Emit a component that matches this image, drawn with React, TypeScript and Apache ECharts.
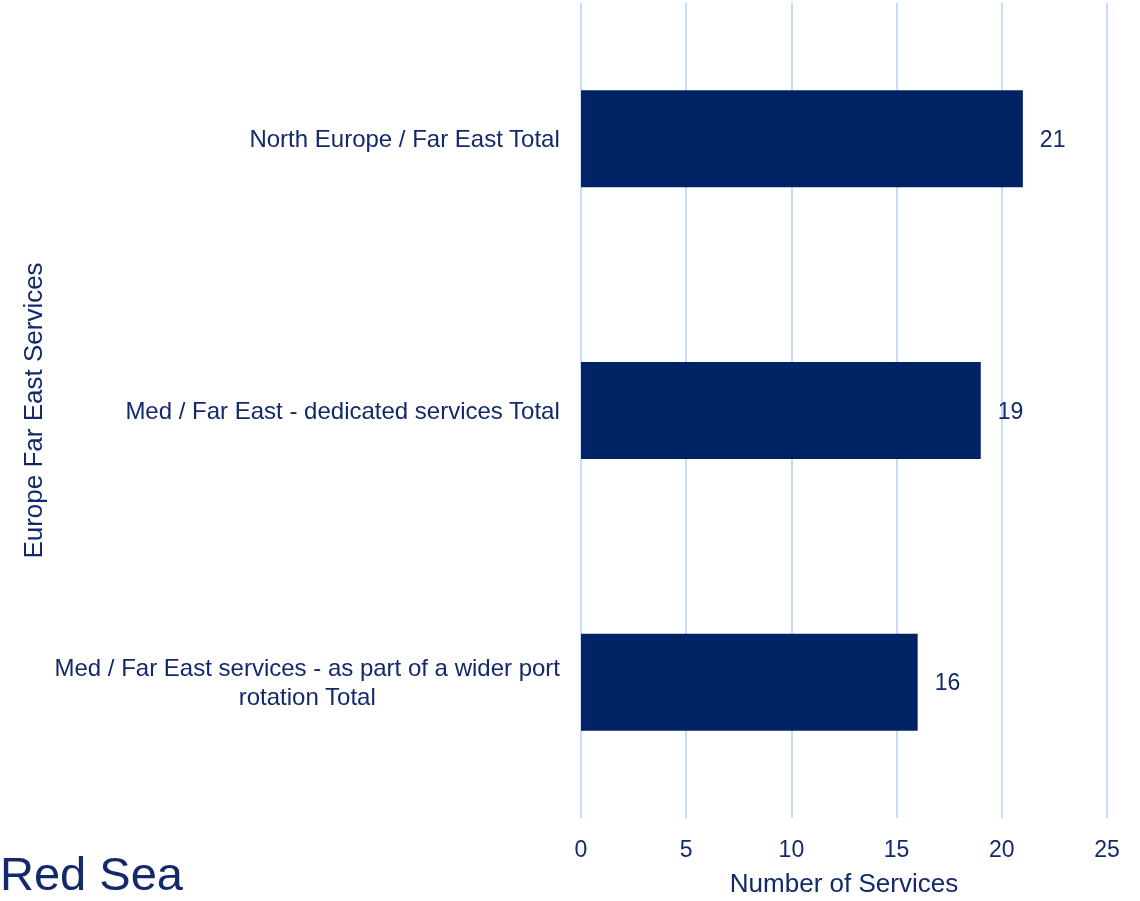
import React, { useEffect, useRef } from "react";
import * as echarts from "echarts";

const categories = [
  "Med / Far East services - as part of a wider port\nrotation Total",
  "Med / Far East - dedicated services Total",
  "North Europe / Far East Total",
];
const values = [16, 19, 21];
const xTicks = { min: 0, max: 25, interval: 5 };

const NAVY = "#002366";
const TEXT = "#13296b";
const FONT = "'Liberation Sans', Arial, sans-serif";

export default function App() {
  const ref = useRef<HTMLDivElement>(null);
  useEffect(() => {
    const chart = echarts.init(ref.current!, null, { renderer: "svg" });
    chart.setOption({
      animation: false,
      textStyle: { fontFamily: FONT, color: TEXT },
      graphic: [
        {
          type: "text",
          left: 0,
          top: 850,
          style: { text: "Red Sea", fontSize: 47, fill: TEXT, fontFamily: FONT },
        },
      ],
      grid: { left: 581, right: 33, top: 3, bottom: 82, containLabel: false },
      xAxis: {
        type: "value",
        min: xTicks.min,
        max: xTicks.max,
        interval: xTicks.interval,
        name: "Number of Services",
        nameLocation: "middle",
        nameGap: 52,
        nameTextStyle: { fontSize: 26, color: TEXT, fontFamily: FONT },
        axisLine: { show: false },
        axisTick: { show: false },
        axisLabel: { fontSize: 23, color: TEXT, margin: 19, fontFamily: FONT },
        splitLine: { show: true, lineStyle: { color: "#c8dbff", width: 2 } },
      },
      yAxis: {
        type: "category",
        data: categories,
        name: "Europe Far East Services",
        nameLocation: "middle",
        nameGap: 535,
        nameRotate: 90,
        nameTextStyle: { fontSize: 26, color: TEXT, fontFamily: FONT },
        axisLine: { show: false },
        axisTick: { show: false },
        axisLabel: {
          margin: 21,
          fontSize: 24,
          color: TEXT,
          fontFamily: FONT,
          lineHeight: 29,
          formatter: (v: string) => "{a|" + v + "}",
          rich: {
            a: { align: "center", fontSize: 24, color: TEXT, fontFamily: FONT, lineHeight: 29 },
          },
        },
      },
      series: [
        {
          type: "bar",
          data: values,
          barWidth: 97,
          itemStyle: { color: NAVY },
          label: {
            show: true,
            position: "right",
            distance: 17,
            fontSize: 23,
            color: TEXT,
            fontFamily: FONT,
          },
        },
      ],
    });
    return () => chart.dispose();
  }, []);
  return (
    <div
      ref={ref}
      style={{ position: "fixed", left: 0, top: 0, width: 1140, height: 901 }}
    />
  );
}
